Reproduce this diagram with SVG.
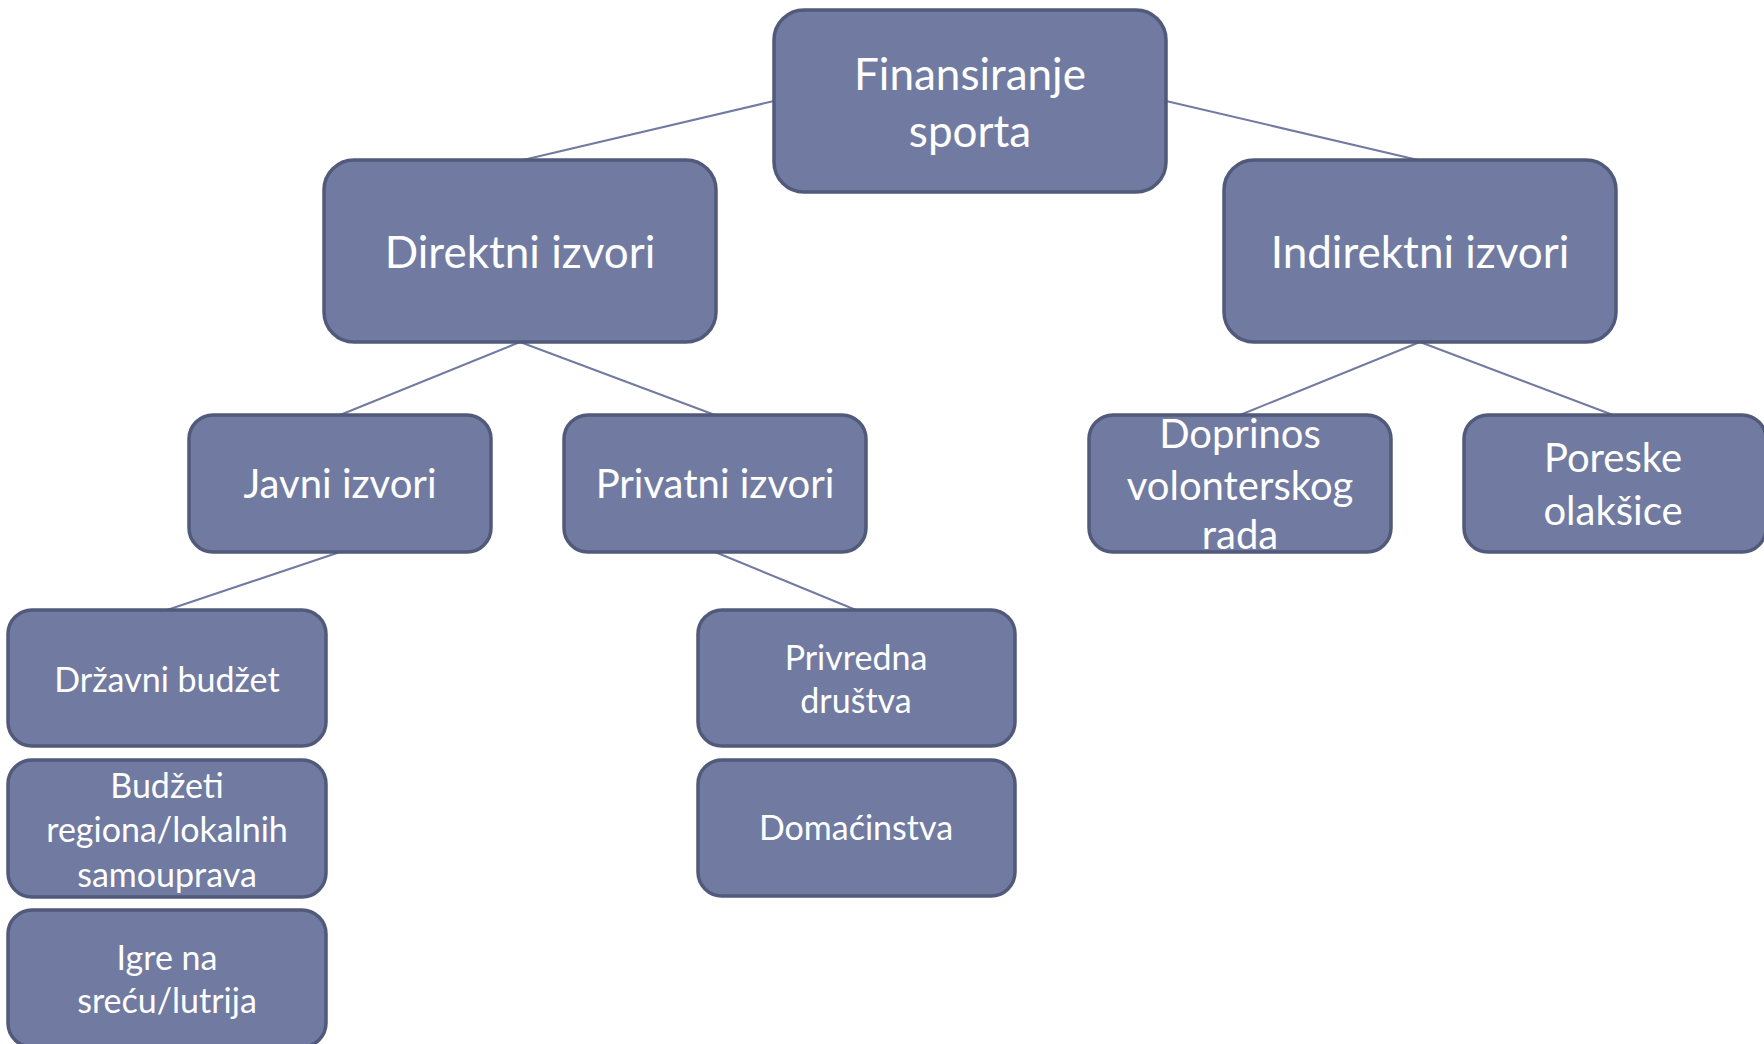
<svg xmlns="http://www.w3.org/2000/svg" width="1764" height="1044" viewBox="0 0 1764 1044">
<style>
.box{fill:#717ba1;stroke:#515a7a;stroke-width:3.5}
.t{fill:#ffffff;font-family:Lato,"Open Sans",sans-serif;text-anchor:middle}
.l1{font-size:44px}
.l3{font-size:40px}
.l4{font-size:34px}
.c{stroke:#717ba1;stroke-width:2;fill:none}
</style>
<rect width="1764" height="1044" fill="#ffffff"/>
<g id="connectors">
<line class="c" x1="774" y1="101" x2="523" y2="160"/>
<line class="c" x1="1166" y1="101" x2="1418" y2="160"/>
<line class="c" x1="520" y1="342" x2="340" y2="415"/>
<line class="c" x1="520" y1="342" x2="715" y2="415"/>
<line class="c" x1="1420" y1="342" x2="1240" y2="415"/>
<line class="c" x1="1420" y1="342" x2="1613" y2="415"/>
<line class="c" x1="340" y1="552" x2="167" y2="610"/>
<line class="c" x1="715" y1="552" x2="856" y2="610"/>
</g>
<g id="n-root"><rect class="box" x="774" y="10" width="392" height="182" rx="30"/>
<text class="t l1" x="970" y="90">Finansiranje</text><text class="t l1" x="970" y="147">sporta</text></g>
<g id="n-direktni"><rect class="box" x="324" y="160" width="392" height="182" rx="30"/>
<text class="t l1" x="520" y="268">Direktni izvori</text></g>
<g id="n-indirektni"><rect class="box" x="1224" y="160" width="392" height="182" rx="30"/>
<text class="t l1" x="1420" y="268">Indirektni izvori</text></g>
<g id="n-javni"><rect class="box" x="189" y="415" width="302" height="137" rx="24"/>
<text class="t l3" x="340" y="498">Javni izvori</text></g>
<g id="n-privatni"><rect class="box" x="564" y="415" width="302" height="137" rx="24"/>
<text class="t l3" x="715" y="498">Privatni izvori</text></g>
<g id="n-doprinos"><rect class="box" x="1089" y="415" width="302" height="137" rx="24"/>
<text class="t l3" x="1240" y="448">Doprinos</text><text class="t l3" x="1240" y="500">volonterskog</text><text class="t l3" x="1240" y="549">rada</text></g>
<g id="n-poreske"><rect class="box" x="1464" y="415" width="302" height="137" rx="24"/>
<text class="t l3" x="1613" y="472">Poreske</text><text class="t l3" x="1613" y="525">olakšice</text></g>
<g id="n-drzavni"><rect class="box" x="8" y="610" width="318" height="136" rx="24"/>
<text class="t l4" x="167" y="692">Državni budžet</text></g>
<g id="n-budzeti"><rect class="box" x="8" y="760" width="318" height="137" rx="24"/>
<text class="t l4" x="167" y="798">Budžeti</text><text class="t l4" x="167" y="842">regiona/lokalnih</text><text class="t l4" x="167" y="887">samouprava</text></g>
<g id="n-igre"><rect class="box" x="8" y="910" width="318" height="137" rx="24"/>
<text class="t l4" x="167" y="970">Igre na</text><text class="t l4" x="167" y="1013">sreću/lutrija</text></g>
<g id="n-privredna"><rect class="box" x="698" y="610" width="317" height="136" rx="24"/>
<text class="t l4" x="856" y="670">Privredna</text><text class="t l4" x="856" y="713">društva</text></g>
<g id="n-domacinstva"><rect class="box" x="698" y="760" width="317" height="136" rx="24"/>
<text class="t l4" x="856" y="840">Domaćinstva</text></g>
</svg>
